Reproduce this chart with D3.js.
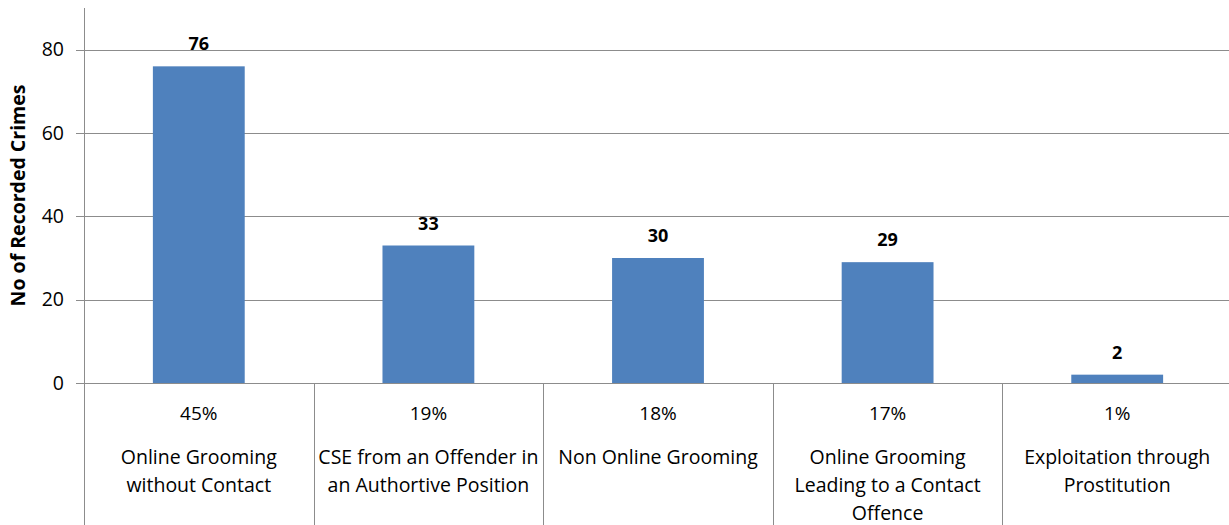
<!DOCTYPE html>
<html lang="en">
<head>
<meta charset="utf-8">
<title>Recorded Crimes</title>
<script src="https://cdnjs.cloudflare.com/ajax/libs/d3/7.8.5/d3.min.js"></script>
<style>
  body { margin: 0; background: #fff; }
  text { font-family: "Open Sans", "Noto Sans", sans-serif; fill: #000; }
</style>
</head>
<body>
<script>
// data
var categories = [
    ["Online Grooming", "without Contact"],
    ["CSE from an Offender in", "an Authortive Position"],
    ["Non Online Grooming"],
    ["Online Grooming", "Leading to a Contact", "Offence"],
    ["Exploitation through", "Prostitution"]
];
var percents = ["45%", "19%", "18%", "17%", "1%"];
var values = [76, 33, 30, 29, 2];
var yTicks = [0, 20, 40, 60, 80];

var w = 1229, h = 525;
var padLeft = 84, padTop = 8, padRight = w + 3, zeroY = 383;

var svg = d3.select("body").append("svg")
    .attr("width", w)
    .attr("height", h);

var x = d3.scaleBand()
    .domain(d3.range(values.length))
    .range([padLeft, padRight])
    .paddingInner(0)
    .paddingOuter(0);

var y = d3.scaleLinear()
    .domain([0, 90])
    .range([zeroY, padTop]);

// gridlines
svg.append("g")
    .selectAll("line")
    .data(yTicks)
    .enter()
    .append("line")
    .attr("x1", padLeft - 8)
    .attr("x2", w)
    .attr("y1", function(d){ return Math.round(y(d)) + 0.5; })
    .attr("y2", function(d){ return Math.round(y(d)) + 0.5; })
    .attr("stroke", "#8c8c8c")
    .attr("stroke-width", 1);

// y tick labels
svg.append("g")
    .selectAll("text")
    .data(yTicks)
    .enter()
    .append("text")
    .attr("x", padLeft - 20)
    .attr("y", function(d){ return y(d); })
    .attr("dy", "0.35em")
    .attr("text-anchor", "end")
    .style("font-size", "19.5px")
    .text(function(d){ return d; });

// y axis line
svg.append("line")
    .attr("x1", padLeft + 0.5).attr("x2", padLeft + 0.5)
    .attr("y1", padTop).attr("y2", h)
    .attr("stroke", "#8c8c8c");

// category separators
svg.append("g")
    .selectAll("line")
    .data(d3.range(1, values.length + 1))
    .enter()
    .append("line")
    .attr("x1", function(i){ return Math.round(x(i - 1) + x.bandwidth()) + 0.5; })
    .attr("x2", function(i){ return Math.round(x(i - 1) + x.bandwidth()) + 0.5; })
    .attr("y1", zeroY)
    .attr("y2", h)
    .attr("stroke", "#8c8c8c");

// bars
var bw = x.bandwidth() * 0.4;
svg.append("g")
    .selectAll("rect")
    .data(values)
    .enter()
    .append("rect")
    .attr("x", function(d, i){ return x(i) + (x.bandwidth() - bw) / 2; })
    .attr("y", function(d){ return y(d); })
    .attr("width", bw)
    .attr("height", function(d){ return zeroY - y(d); })
    .attr("fill", "#4f81bd");

// value labels
svg.append("g")
    .selectAll("text")
    .data(values)
    .enter()
    .append("text")
    .attr("x", function(d, i){ return x(i) + x.bandwidth() / 2; })
    .attr("y", function(d){ return y(d) - 16; })
    .attr("text-anchor", "middle")
    .style("font-size", "18px")
    .style("font-weight", "bold")
    .text(function(d){ return d; });

// percent labels
svg.append("g")
    .selectAll("text")
    .data(percents)
    .enter()
    .append("text")
    .attr("x", function(d, i){ return x(i) + x.bandwidth() / 2; })
    .attr("y", 413)
    .attr("dy", "0.35em")
    .attr("text-anchor", "middle")
    .style("font-size", "19px")
    .text(function(d){ return d; });

// category labels
var cat = svg.append("g")
    .selectAll("text")
    .data(categories)
    .enter()
    .append("text")
    .attr("text-anchor", "middle")
    .style("font-size", "19.5px");

cat.selectAll("tspan")
    .data(function(d, i){ return d.map(function(s){ return {s: s, i: i}; }); })
    .enter()
    .append("tspan")
    .attr("x", function(d){ return x(d.i) + x.bandwidth() / 2; })
    .attr("y", function(d, j){ return 457 + j * 28; })
    .attr("dy", "0.35em")
    .text(function(d){ return d.s; });

// y axis title
svg.append("text")
    .attr("transform", "translate(18," + ((padTop + zeroY) / 2) + ") rotate(-90)")
    .attr("text-anchor", "middle")
    .attr("dy", "0.35em")
    .style("font-size", "19.5px")
    .style("font-weight", "bold")
    .text("No of Recorded Crimes");
</script>
</body>
</html>
